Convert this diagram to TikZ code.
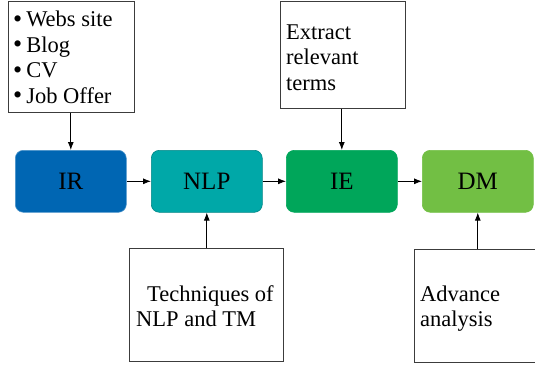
\documentclass[tikz,border=0pt]{standalone}
\usepackage{fontspec}
\setmainfont{Liberation Serif}
\usetikzlibrary{arrows.meta}
\definecolor{cIR}{RGB}{0,102,179}
\definecolor{cNLP}{RGB}{0,168,168}
\definecolor{cIE}{RGB}{0,166,90}
\definecolor{cDM}{RGB}{114,191,68}
\definecolor{edge}{RGB}{60,60,60}
\newcommand{\bigbul}{{\fontsize{26}{26}\selectfont\raisebox{-0.5pt}{•}}\hspace{4pt}}
\begin{document}
\begin{tikzpicture}[x=1pt,y=-1pt,
  stage/.style={rounded corners=8pt, minimum width=111pt, minimum height=62pt, anchor=north west, inner sep=0pt, font=\fontsize{25}{28}\selectfont, line width=0.6pt},
  infobox/.style={draw=edge, line width=0.9pt, anchor=north west, inner sep=0pt},
  txt/.style={anchor=base west, inner sep=0pt, font=\fontsize{22.5}{25.5}\selectfont},
  arr/.style={-{Latex[length=8pt,width=6pt]}, line width=0.8pt}]
\useasboundingbox (0,0) rectangle (535,367);
% info boxes
\node[infobox, minimum width=126pt, minimum height=111pt] (src) at (8,1) {};
\node[txt] (b1) at (13,26.5) {\bigbul Webs site};
\node[txt] (b2) at (13,52) {\bigbul Blog};
\node[txt] (b3) at (13,77.5) {\bigbul CV};
\node[txt] (b4) at (13,103) {\bigbul Job Offer};
\node[infobox, minimum width=125pt, minimum height=107pt] (ext) at (280,1) {};
\node[txt] (e1) at (286,39) {Extract};
\node[txt] (e2) at (286,64.5) {relevant};
\node[txt] (e3) at (286,90) {terms};
\node[infobox, minimum width=154pt, minimum height=113pt] (tech) at (129,248) {};
\node[txt] (t1) at (147,301) {Techniques of};
\node[txt] (t2) at (136,326) {NLP and TM};
\node[infobox, minimum width=125pt, minimum height=113pt] (adv) at (414,249) {};
\node[txt] (a1) at (420,301) {Advance};
\node[txt] (a2) at (420,326) {analysis};
% stages
\node[stage, fill=cIR, draw=cIR!70!white] (ir) at (15,150) {IR};
\node[stage, fill=cNLP, draw=cNLP!80!black] (nlp) at (151,150) {NLP};
\node[stage, fill=cIE, draw=cIE] (ie) at (286,150) {IE};
\node[stage, fill=cDM, draw=cDM] (dm) at (422,150) {DM};
% connectors
\draw[arr] (ir.north |- src.south) -- (ir.north);
\draw[arr] (ie.north |- ext.south) -- (ie.north);
\draw[arr] (nlp.south |- tech.north) -- (nlp.south);
\draw[arr] (dm.south |- adv.north) -- (dm.south);
\draw[arr] (ir.east) -- (nlp.west);
\draw[arr] (nlp.east) -- (ie.west);
\draw[arr] (ie.east) -- (dm.west);
\end{tikzpicture}
\end{document}
